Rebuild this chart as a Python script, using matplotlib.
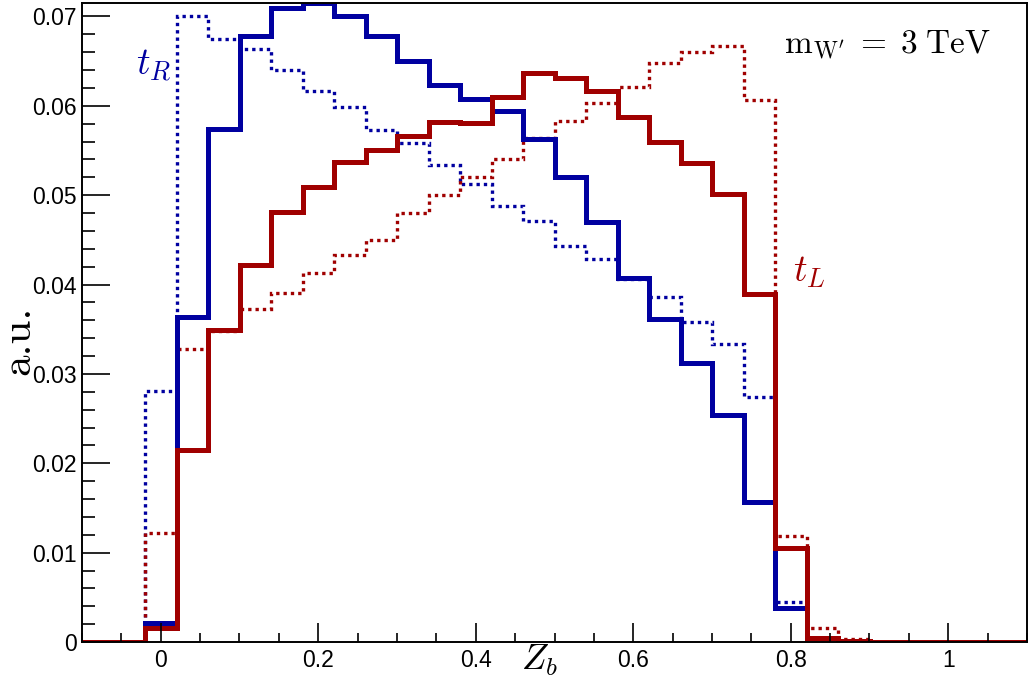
import numpy as np
import matplotlib
matplotlib.use("Agg")
import matplotlib.pyplot as plt
from matplotlib.ticker import MultipleLocator

# 30 bins of width 0.04 from -0.1 to 1.1
edges = np.linspace(-0.1, 1.1, 31)

tR_solid = [0, 0, 0.0021, 0.0364, 0.0574, 0.0678, 0.0709, 0.0715, 0.0700, 0.0678,
            0.0650, 0.0623, 0.0608, 0.0594, 0.0563, 0.0520, 0.0470, 0.0407, 0.0361, 0.0312,
            0.0254, 0.0157, 0.0038, 0.0004, 0, 0, 0, 0, 0, 0]
tR_dotted = [0, 0, 0.0281, 0.0700, 0.0675, 0.0663, 0.0640, 0.0617, 0.0599, 0.0573,
             0.0558, 0.0534, 0.0513, 0.0488, 0.0471, 0.0443, 0.0429, 0.0406, 0.0386, 0.0358,
             0.0333, 0.0274, 0.0045, 0.0003, 0, 0, 0, 0, 0, 0]
tL_solid = [0, 0, 0.0016, 0.0215, 0.0349, 0.0422, 0.0481, 0.0509, 0.0537, 0.0550,
            0.0566, 0.0582, 0.0581, 0.0610, 0.0637, 0.0631, 0.0617, 0.0588, 0.0559, 0.0536,
            0.0501, 0.0389, 0.0105, 0.0004, 0.0001, 0, 0, 0, 0, 0]
tL_dotted = [0, 0, 0.0122, 0.0328, 0.0348, 0.0373, 0.0390, 0.0413, 0.0433, 0.0450,
             0.0480, 0.0500, 0.0520, 0.0541, 0.0564, 0.0583, 0.0603, 0.0621, 0.0648, 0.0660,
             0.0667, 0.0607, 0.0119, 0.0016, 0.0003, 0, 0, 0, 0, 0]

blue = '#0000a0'
red = '#a00000'

plt.rcParams['mathtext.fontset'] = 'cm'
plt.rcParams['font.family'] = ['Liberation Sans', 'DejaVu Sans']

fig = plt.figure(figsize=(10.28, 6.8), dpi=100)
ax = fig.add_axes([82/1028, 38/680, 945/1028, 639/680])

ax.stairs(tR_dotted, edges, color=blue, lw=2.4, ls=(0, (1, 1.2)))
ax.stairs(tL_dotted, edges, color=red, lw=2.4, ls=(0, (1, 1.2)))
ax.stairs(tR_solid, edges, color=blue, lw=3.6)
ax.stairs(tL_solid, edges, color=red, lw=3.6)

ax.set_xlim(-0.1, 1.1)
ax.set_ylim(0, 0.0715)

ax.xaxis.set_minor_locator(MultipleLocator(0.05))
ax.yaxis.set_minor_locator(MultipleLocator(0.002))
ax.set_xticks([0, 0.2, 0.4, 0.6, 0.8, 1.0])
ax.set_xticklabels(['0', '0.2', '0.4', '0.6', '0.8', '1'])
ax.set_yticks([0, 0.01, 0.02, 0.03, 0.04, 0.05, 0.06, 0.07])
ax.set_yticklabels(['0', '0.01', '0.02', '0.03', '0.04', '0.05', '0.06', '0.07'])

ax.tick_params(axis='y', which='major', direction='in', length=20, width=1.2, labelsize=16.5, pad=4)
ax.tick_params(axis='y', which='minor', direction='in', length=9.5, width=1.2)
ax.tick_params(axis='x', which='major', direction='in', length=14, width=1.2, labelsize=16.5, pad=5)
ax.tick_params(axis='x', which='minor', direction='in', length=6.5, width=1.2)
for s in ax.spines.values():
    s.set_linewidth(1.4)

ax.text(-0.009, 0.0645, r'$t_R$', color=blue, fontsize=27, ha='center', va='center')
ax.text(0.823, 0.0414, r'$t_L$', color=red, fontsize=27, ha='center', va='center')
ax.text(0.922, 0.0668, r'$\mathrm{m_{W^{\prime}}}\;=\;3\;\mathrm{TeV}$', fontsize=24,
        ha='center', va='center')
ax.text(0.4815, -0.0021, r'$Z_b$', fontsize=26, ha='center', va='center', clip_on=False)
fig.text(0.0185, 0.5, 'a.u.', fontname='cmr10', fontsize=31, rotation=90,
         ha='center', va='center')

fig.savefig('out.png', dpi=100)
